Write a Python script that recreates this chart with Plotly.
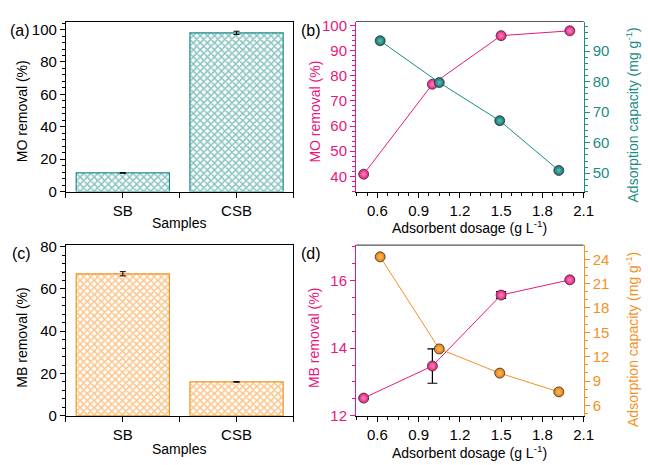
import plotly.graph_objects as go

# ---------------- data ----------------
samples = ["SB", "CSB"]
mo_removal_bar = [11.5, 98.0]
mo_removal_bar_err = [0.2, 1.0]
mb_removal_bar = [67.2, 16.0]
mb_removal_bar_err = [1.0, 0.15]

dosage = [0.5, 1.0, 1.5, 2.0]
dosage_cap = [0.62, 1.05, 1.49, 1.92]

mo_removal = [40.9, 76.6, 95.9, 97.8]
mo_removal_err = [0.6, 0.5, 0.8, 0.9]
mo_capacity = [93.4, 79.7, 67.2, 50.9]
mo_capacity_err = [0.6, 0.6, 0.6, 0.8]

mb_removal = [12.52, 13.47, 15.57, 16.02]
mb_removal_err = [0.02, 0.51, 0.1, 0.03]
mb_capacity = [24.3, 12.96, 9.98, 7.67]
mb_capacity_err = [0.1, 0.45, 0.1, 0.1]

# ---------------- styles ----------------
W, H = 648, 465
TEAL = "#1b8c86"
PINK = "#e8177d"
ORANGE = "#f5901e"
FONT = "Liberation Sans, Arial, sans-serif"
TICKF = 15
TITLEF = 14


def px(x):
    return x / W


def py(y):
    return 1 - y / H


fig = go.Figure()

# (a) bars
fig.add_trace(go.Bar(
    x=[0, 1], y=mo_removal_bar, width=0.82,
    marker=dict(color="white", line=dict(color=TEAL, width=1.2),
                pattern=dict(shape="x", fgcolor=TEAL, bgcolor="white", size=5, solidity=0.55)),
    error_y=dict(type="data", array=mo_removal_bar_err, color="black", thickness=1, width=3),
    xaxis="x", yaxis="y", showlegend=False))

# (c) bars
fig.add_trace(go.Bar(
    x=[0, 1], y=mb_removal_bar, width=0.82,
    marker=dict(color="white", line=dict(color=ORANGE, width=1.2),
                pattern=dict(shape="x", fgcolor=ORANGE, bgcolor="white", size=5, solidity=0.55)),
    error_y=dict(type="data", array=mb_removal_bar_err, color="black", thickness=1, width=3),
    xaxis="x3", yaxis="y4", showlegend=False))


def scat(x, y, err, color, linecolor, light, xa, ya, errw=3):
    return go.Scatter(
        x=x, y=y, mode="lines+markers",
        line=dict(color=linecolor, width=1),
        marker=dict(size=10, color=color, line=dict(color="#333", width=0.8),
                    gradient=dict(type="radial", color=light)),
        error_y=dict(type="data", array=err, color="black", thickness=1.2, width=errw),
        xaxis=xa, yaxis=ya, showlegend=False)


# (b)
fig.add_trace(scat(dosage, mo_removal, mo_removal_err, PINK, PINK, "#ff8cc0", "x2", "y2"))
fig.add_trace(scat(dosage_cap, mo_capacity, mo_capacity_err, "#0f6f6a", TEAL, "#5fc2bb", "x2", "y3"))
# (d)
fig.add_trace(scat(dosage, mb_removal, mb_removal_err, PINK, PINK, "#ff8cc0", "x4", "y5", errw=5))
fig.add_trace(scat(dosage_cap, mb_capacity, mb_capacity_err, "#e57a00", ORANGE, "#ffc070", "x4", "y6", errw=3))

# ---------------- axes ----------------
LX = (px(67), px(298))
RX = (px(361.7), px(592.7))
TOP = (py(190.7), py(15))
BOT = (py(422.3), py(246))


def axcommon(color="black", tickcolor=None):
    tc = tickcolor or color
    return dict(showline=True, linecolor=color, linewidth=1.2, ticks="outside",
                ticklen=5, tickwidth=1, tickcolor=tc, showgrid=False, zeroline=False,
                tickfont=dict(family=FONT, size=TICKF, color=color))


def minor(d, color):
    return dict(dtick=d, ticks="outside", ticklen=3, tickwidth=1, tickcolor=color, showgrid=False)


layout = dict(
    width=W, height=H, margin=dict(l=0, r=0, t=0, b=0),
    paper_bgcolor="white", plot_bgcolor="white",
    font=dict(family=FONT, size=TITLEF, color="black"),
)

# bar x axes
for name, dom, anchor in (("xaxis", TOP, "y"), ("xaxis3", BOT, "y4")):
    d = axcommon()
    d.update(domain=LX, anchor=anchor, range=[-0.5, 1.5], tickvals=[0, 1], ticktext=samples,
             mirror=True, minor=dict(tickvals=[-0.5, 0.5, 1.5], ticks="outside", ticklen=5,
                                     tickwidth=1, tickcolor="black"))
    layout[name] = d

ya = axcommon()
ya.update(domain=TOP, anchor="x", range=[0, 105], dtick=20, mirror=True, minor=minor(4, "black"))
layout["yaxis"] = ya
yc = axcommon()
yc.update(domain=BOT, anchor="x3", range=[0, 80.8], dtick=20, mirror=True, minor=minor(4, "black"))
layout["yaxis4"] = yc

# dosage x axes
for name, dom, anchor in (("xaxis2", TOP, "y2"), ("xaxis4", BOT, "y5")):
    d = axcommon()
    d.update(domain=RX, anchor=anchor, range=[0.445, 2.1], tick0=0.6, dtick=0.3,
             minor=dict(tick0=0.6, dtick=0.075, ticks="outside", ticklen=3, tickwidth=1, tickcolor="black"))
    layout[name] = d

y2 = axcommon(PINK)
y2.update(domain=TOP, anchor="x2", range=[34, 101.5], dtick=10, minor=minor(2, PINK))
layout["yaxis2"] = y2
y3 = axcommon(TEAL)
y3.update(domain=TOP, anchor="x2", overlaying="y2", side="right", range=[44, 99.7], dtick=10,
          minor=minor(2, TEAL))
layout["yaxis3"] = y3

y5 = axcommon(PINK)
y5.update(domain=BOT, anchor="x4", range=[12, 17.05], dtick=2, minor=minor(0.5, PINK))
layout["yaxis5"] = y5
y6 = axcommon(ORANGE)
y6.update(domain=BOT, anchor="x4", overlaying="y5", side="right", range=[4.74, 25.75], tick0=6, dtick=3,
          minor=dict(tick0=6, dtick=1, ticks="outside", ticklen=3, tickwidth=1, tickcolor=ORANGE, showgrid=False))
layout["yaxis6"] = y6

fig.update_layout(**layout)

# top border lines for right panels
for dom in (TOP, BOT):
    fig.add_shape(type="line", xref="paper", yref="paper", x0=RX[0], x1=RX[1], y0=dom[1], y1=dom[1],
                  line=dict(color="#555", width=1.2))


# ---------------- annotations ----------------
def ann(text, x, y, color="black", angle=0, size=TITLEF):
    fig.add_annotation(text=text, x=px(x), y=py(y), xref="paper", yref="paper", showarrow=False,
                       textangle=angle, xanchor="center", yanchor="middle",
                       font=dict(family=FONT, size=size, color=color))


ann("(a)", 20, 24, size=16)
ann("(b)", 316, 24, size=16)
ann("(c)", 22, 255, size=16)
ann("(d)", 316, 255, size=16)

ann("MO removal (%)", 22, 108, angle=-90)
ann("Samples", 182, 223)
ann("MB removal (%)", 22, 342, angle=-90)
ann("Samples", 182, 457)

ann("MO removal (%)", 319, 108, color=PINK, angle=-90)
ann("Adsorption capacity (mg g<sup>-1</sup>)", 642, 112, color=TEAL, angle=-90)
ann("Adsorbent dosage (g L<sup>-1</sup>)", 477, 227)

ann("MB removal (%)", 319, 342, color=PINK, angle=-90)
ann("Adsorption capacity (mg g<sup>-1</sup>)", 642, 344, color=ORANGE, angle=-90)
ann("Adsorbent dosage (g L<sup>-1</sup>)", 477, 460)

fig.write_html("out.html")
